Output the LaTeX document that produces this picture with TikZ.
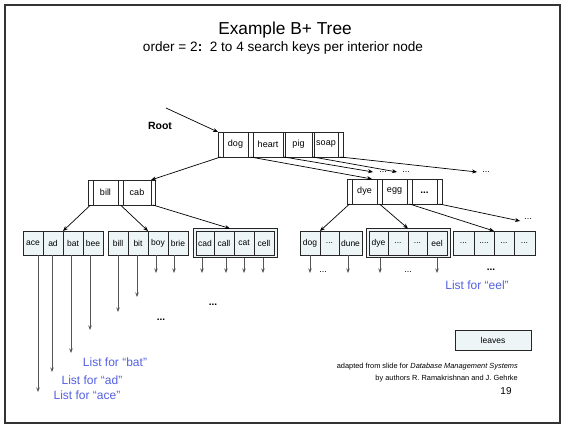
\documentclass[tikz,border=0pt]{standalone}
\usepackage{fontspec}
\setmainfont{Liberation Sans}
\usetikzlibrary{arrows.meta,calc}
\definecolor{leaffill}{RGB}{238,245,246}
\definecolor{listblue}{RGB}{84,96,224}
\definecolor{arrowgray}{RGB}{85,85,85}
\begin{document}
\begin{tikzpicture}[x=1pt,y=-1pt,
  base/.style={rectangle, draw=black!85, line width=0.6pt, anchor=north west, inner sep=0pt, outer sep=0pt},
  ptr/.style={base, line width=0.9pt, minimum height=25pt, fill=white},
  key/.style={base, minimum height=25pt, fill=white, font=\fontsize{9}{10}\selectfont},
  leafcell/.style={base, minimum height=24pt, fill=leaffill, font=\fontsize{8.5}{9}\selectfont},
  leafframe/.style={base, minimum height=29pt, fill=leaffill},
  treearr/.style={draw=black, line width=0.7pt, -{Stealth[length=5pt,width=4pt]}},
  leafarr/.style={draw=arrowgray, line width=0.8pt, -{Stealth[length=4.5pt,width=3.5pt]}},
  dots/.style={inner sep=0pt, font=\fontsize{9}{9}\selectfont},
  bdots/.style={inner sep=0pt, font=\bfseries\fontsize{10}{10}\selectfont},
  listlbl/.style={inner sep=0pt, text=listblue, font=\fontsize{12}{13}\selectfont},
  credit/.style={inner sep=0pt, anchor=east, font=\fontsize{7.4}{9}\selectfont}
]
\useasboundingbox (0,0) rectangle (565,426);
% frame
\draw[black!80, line width=1.2pt] (5,5) rectangle (560,423);

% titles
\node[inner sep=0pt, font=\fontsize{17.3}{19}\selectfont] (title) at (285,30) {Example B+ Tree};
\node[inner sep=0pt, font=\fontsize{13.6}{15}\selectfont] (subtitle) at (283,48) {order = 2\textbf{:}\ \ 2 to 4 search keys per interior node};

% root
\node[inner sep=0pt, font=\bfseries\fontsize{10.5}{12}\selectfont] (rootlbl) at (160,126) {Root};
\coordinate (rs) at (166,108);
\node[ptr, minimum width=5] (r0) at (218,132) {};
\node[key, minimum width=25] (r1) at (223,132) {dog};
\node[ptr, minimum width=5] (r2) at (248,132) {};
\node[key, minimum width=30] (r3) at (253,132) {heart};
\node[ptr, minimum width=2] (r4) at (283,132) {};
\node[key, minimum width=27] (r5) at (285,132) {pig};
\node[ptr, minimum width=2] (r6) at (312,132) {};
\node[key, minimum width=24] (r7) at (314,132) {soap};
\node[ptr, minimum width=5] (r8) at (338,132) {};

% bill / cab
\node[ptr, minimum width=5] (b0) at (88,180) {};
\node[key, minimum width=25] (b1) at (93,180) {bill};
\node[ptr, minimum width=5] (b2) at (118,180) {};
\node[key, minimum width=28] (b3) at (123,180) {cab};
\node[ptr, minimum width=4] (b4) at (151,180) {};

% dye / egg
\node[ptr, minimum width=5] (e0) at (347,179) {};
\node[key, minimum width=25] (e1) at (352,179) {dye};
\node[ptr, minimum width=5] (e2) at (377,179) {};
\node[key, minimum width=25] (e3) at (382,179) {egg};
\node[ptr, minimum width=5] (e4) at (407,179) {};
\node[key, minimum width=25, font=\bfseries\fontsize{10}{10}\selectfont] (e5) at (412,179) {\raisebox{-4pt}{...}};
\node[ptr, minimum width=5] (e6) at (437,179) {};

% leaves
\node[leafcell, minimum width=20] (la1) at (23,231) {ace};
\node[leafcell, minimum width=20] (la2) at (43,231) {ad};
\node[leafcell, minimum width=20] (la3) at (63,231) {bat};
\node[leafcell, minimum width=20] (la4) at (83,231) {bee};

\node[leafcell, minimum width=20] (lb1) at (108,231) {bill};
\node[leafcell, minimum width=20] (lb2) at (128,231) {bit};
\node[leafcell, minimum width=20] (lb3) at (148,231) {boy};
\node[leafcell, minimum width=20] (lb4) at (168,231) {brie};

\node[leafframe, minimum width=84] (lcf) at (193,228.5) {};
\node[leafcell, minimum width=18] (lc1) at (196,231) {cad};
\node[leafcell, minimum width=20] (lc2) at (214,231) {call};
\node[leafcell, minimum width=20] (lc3) at (234,231) {cat};
\node[leafcell, minimum width=20] (lc4) at (254,231) {cell};

\node[leafcell, minimum width=20] (ld1) at (300,231) {dog};
\node[leafcell, minimum width=19] (ld2) at (320,231) {...};
\node[leafcell, minimum width=23] (ld3) at (339,231) {dune};

\node[leafframe, minimum width=84] (lef) at (366,228.5) {};
\node[leafcell, minimum width=19] (le1) at (369,231) {dye};
\node[leafcell, minimum width=20] (le2) at (388,231) {...};
\node[leafcell, minimum width=19] (le3) at (408,231) {...};
\node[leafcell, minimum width=20] (le4) at (427,231) {eel};

\node[leafcell, minimum width=21] (lf1) at (453,231) {...};
\node[leafcell, minimum width=20] (lf2) at (474,231) {....};
\node[leafcell, minimum width=20] (lf3) at (494,231) {...};
\node[leafcell, minimum width=21] (lf4) at (514,231) {...};

% dots
\node[dots] (q1) at (383,172) {...};
\node[dots] (q2) at (406,172) {...};
\node[dots] (q3) at (486,172) {...};
\node[dots] (q4) at (528,219) {...};
\node[bdots] (q5) at (161,320) {...};
\node[bdots] (q6) at (213,305) {...};
\node[dots] (q7) at (323,272) {...};
\node[dots] (q8) at (408,272) {...};
\node[bdots] (q9) at (491,270) {...};

% tree arrows
\draw[treearr] (rs) -- (r0.north west);
\draw[treearr] (r0.south) -- (b4.north west);
\draw[treearr] (r2.south) -- ([xshift=-5pt]e1.north east);
\draw[treearr] (r4.south) -- ([xshift=-6pt]q1.west);
\draw[treearr] (r6.south) -- ([xshift=-5pt]q2.west);
\draw[treearr] (r8.south) -- ([xshift=-5pt]q3.west);

\draw[treearr] (b0.south) -- (la2.north east);
\draw[treearr] (b2.south) -- (lb2.north east);
\draw[treearr] (b4.south) -- ($(lcf.north west)!0.44!(lcf.north east)$);

\draw[treearr] (e0.south) -- (ld2.north west);
\draw[treearr] (e2.south) -- (lef.north);
\draw[treearr] (e4.south) -- (lf3.north west);
\draw[treearr] (e6.south) -- ([xshift=-4pt,yshift=-2pt]q4.west);

% leaf pointers
\coordinate (xa1) at (38,392);
\coordinate (xa2) at (52,372);
\coordinate (xa3) at (71,353);
\coordinate (xa4) at (90,330);
\coordinate (xb1) at (118,312);
\coordinate (xb2) at (137,297);
\coordinate (xb3) at (156,273);
\coordinate (xb4) at (174,273);
\coordinate (xc1) at (202,273);
\coordinate (xc2) at (226,273);
\coordinate (xc3) at (244,273);
\coordinate (xc4) at (263,273);
\coordinate (xd1) at (310,273);
\coordinate (xd3) at (348,273);
\coordinate (xe1) at (380,273);
\coordinate (xe4) at (437,273);

\draw[leafarr] (la1.south -| xa1) -- (xa1);
\draw[leafarr] (la2.south -| xa2) -- (xa2);
\draw[leafarr] (la3.south -| xa3) -- (xa3);
\draw[leafarr] (la4.south -| xa4) -- (xa4);
\draw[leafarr] (lb1.south -| xb1) -- (xb1);
\draw[leafarr] (lb2.south -| xb2) -- (xb2);
\draw[leafarr] (lb3.south -| xb3) -- (xb3);
\draw[leafarr] (lb4.south -| xb4) -- (xb4);
\draw[leafarr] (lcf.south -| xc1) -- (xc1);
\draw[leafarr] (lcf.south -| xc2) -- (xc2);
\draw[leafarr] (lcf.south -| xc3) -- (xc3);
\draw[leafarr] (lcf.south -| xc4) -- (xc4);
\draw[leafarr] (ld1.south -| xd1) -- (xd1);
\draw[leafarr] (ld3.south -| xd3) -- (xd3);
\draw[leafarr] (lef.south -| xe1) -- (xe1);
\draw[leafarr] (lef.south -| xe4) -- (xe4);

% labels
\node[listlbl] (lbat) at (115,362) {List for “bat”};
\node[listlbl] (lad) at (92,380) {List for “ad”};
\node[listlbl] (lace) at (87,395) {List for “ace”};
\node[listlbl] (leel) at (477,285) {List for “eel”};

% legend
\node[base, minimum width=76, minimum height=20, fill=leaffill, font=\fontsize{8.5}{9}\selectfont] (legend) at (455,330) {leaves};

% credits
\node[credit] (cr1) at (518,367) {adapted from slide for \textit{Database Management Systems}};
\node[credit] (cr2) at (518,379) {by authors R. Ramakrishnan and J. Gehrke};
\node[inner sep=0pt, font=\fontsize{10}{11}\selectfont] (pg) at (506,391) {19};
\end{tikzpicture}
\end{document}
